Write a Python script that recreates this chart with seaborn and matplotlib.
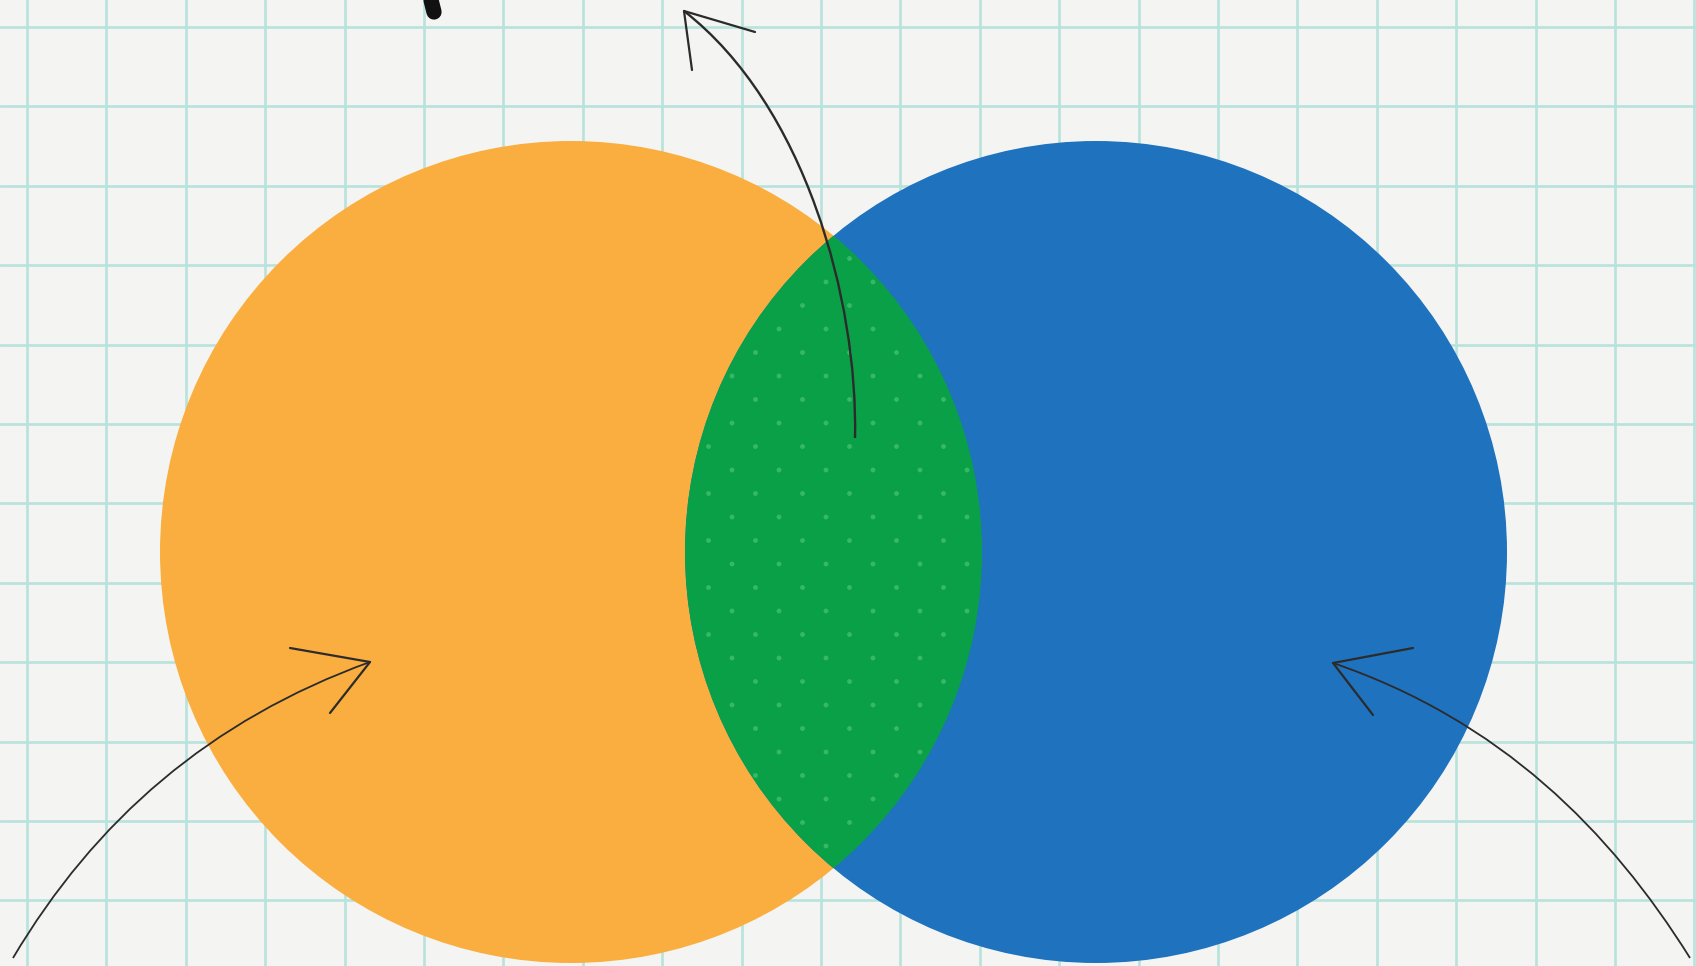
import numpy as np
import pandas as pd
import matplotlib
matplotlib.use("Agg")
import matplotlib.pyplot as plt
import seaborn as sns
from matplotlib.patches import Circle, PathPatch
from matplotlib.path import Path

# Venn circles (pixel space of the picture)
set_names = ["left", "right"]
center_x = [571, 1096]
center_y = [552, 552]
radius = [411, 411]
set_colors = ["#fbae40", "#1f72be"]
overlap_color = "#0aa048"
dot_color = "#38b866"

# hand drawn arrows: tail, control 1, control 2, tip
arrow_paths = [
    [(855, 438), (858, 300), (805, 105), (684, 11)],
    [(13, 958), (95, 820), (210, 720), (370, 662)],
    [(1690, 958), (1610, 830), (1500, 720), (1333, 663)],
]
arrow_wings = [
    [(755, 32), (692, 70)],
    [(290, 648), (330, 713)],
    [(1413, 648), (1373, 715)],
]
arrow_widths = [1.7, 1.3, 1.3]

W, H = 1696, 966
paper = "#f4f5f2"
grid_color = "#b8e2dc"

sns.set_style("white")
fig = plt.figure(figsize=(W / 100, H / 100), dpi=100)
fig.patch.set_facecolor(paper)
ax = fig.add_axes([0, 0, 1, 1])
ax.set_facecolor(paper)
ax.set_xlim(0, W)
ax.set_ylim(H, 0)
ax.set_aspect("equal")
ax.axis("off")

# graph paper
for gx in np.arange(27, W, 79.4):
    ax.axvline(gx, color=grid_color, lw=1.9, zorder=0)
for gy in np.arange(27, H, 79.4):
    ax.axhline(gy, color=grid_color, lw=1.9, zorder=0)

# pencil mark at top
ax.plot([431, 434], [0, 12], color="#111111", lw=11, solid_capstyle="round", zorder=1)

circles = pd.DataFrame({"name": set_names, "x": center_x, "y": center_y,
                        "r": radius, "color": set_colors})

for _, c in circles.iterrows():
    ax.add_patch(Circle((c.x, c.y), c.r, facecolor=c.color, edgecolor="none", zorder=2))

# overlap lens: left circle clipped by right circle
a, b = circles.iloc[0], circles.iloc[1]
lens = Circle((a.x, a.y), a.r, facecolor=overlap_color, edgecolor="none", zorder=3)
ax.add_patch(lens)
clip = Circle((b.x, b.y), b.r, transform=ax.transData)
lens.set_clip_path(clip)

# dotted texture inside the lens
dx, dy = 47, 23.5
pts = []
for j, yy in enumerate(np.arange(a.y - a.r, a.y + a.r, dy)):
    off = 0 if j % 2 == 0 else dx / 2
    for xx in np.arange(b.x - b.r + off, a.x + a.r, dx):
        if (xx - a.x) ** 2 + (yy - a.y) ** 2 < (a.r - 3) ** 2 and \
           (xx - b.x) ** 2 + (yy - b.y) ** 2 < (b.r - 3) ** 2:
            pts.append((xx, yy))
dots = pd.DataFrame(pts, columns=["x", "y"])
sns.scatterplot(data=dots, x="x", y="y", ax=ax, s=12, color=dot_color,
                edgecolor="none", zorder=4, legend=False)

# arrows
for path, wings, lw in zip(arrow_paths, arrow_wings, arrow_widths):
    codes = [Path.MOVETO, Path.CURVE4, Path.CURVE4, Path.CURVE4]
    ax.add_patch(PathPatch(Path(path, codes), facecolor="none",
                           edgecolor="#2b2b2b", lw=lw, zorder=5))
    tip = path[-1]
    for w in wings:
        ax.plot([w[0], tip[0]], [w[1], tip[1]], color="#2b2b2b", lw=1.6,
                solid_capstyle="round", zorder=5)

fig.savefig("out.png", dpi=100, facecolor=paper)
